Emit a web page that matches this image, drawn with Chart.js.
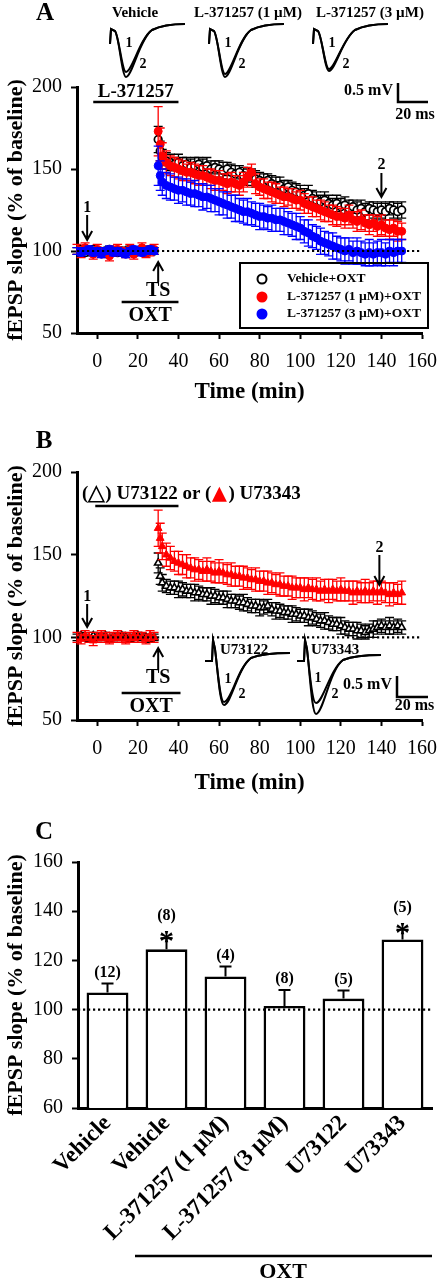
<!DOCTYPE html>
<html>
<head>
<meta charset="utf-8">
<script src="https://cdn.jsdelivr.net/npm/chart.js@4.4.1/dist/chart.umd.min.js"></script>
<style>
  html, body { margin: 0; padding: 0; background: #fff; }
  body { width: 448px; height: 1280px; position: relative; overflow: hidden; }
  canvas { position: absolute; left: 0; }
</style>
</head>
<body>
<canvas id="panelB" width="448" height="400" style="top:400px"></canvas>
<canvas id="panelC" width="448" height="480" style="top:800px"></canvas>
<canvas id="panelA" width="448" height="410" style="top:0"></canvas>
<script>
// ===== 数据 =====
const timePoints = [-10, -8, -6, -4, -2, 0, 2, 4, 6, 8, 10, 12, 14, 16, 18, 20, 22, 24, 26, 28,
  30, 31, 32, 34, 36, 38, 40, 42, 44, 46, 48, 50, 52, 54, 56, 58, 60, 62, 64, 66, 68, 70,
  72, 74, 76, 78, 80, 82, 84, 86, 88, 90, 92, 94, 96, 98, 100, 102, 104, 106, 108, 110,
  112, 114, 116, 118, 120, 122, 124, 126, 128, 130, 132, 134, 136, 138, 140, 142, 144, 146, 148, 150];
const timeTicks = [0, 20, 40, 60, 80, 100, 120, 140, 160];
const yTicksAB = [50, 100, 150, 200];

// Panel A
const seriesLabelsA = ['Vehicle+OXT', 'L-371257 (1 µM)+OXT', 'L-371257 (3 µM)+OXT'];
const vehicleA = [100, 101, 99, 100, 101, 100, 99, 100, 101, 100, 99, 100, 100, 101, 99, 100, 100, 99, 101, 100,
  168, 161, 157, 155, 154, 153, 154, 152, 153, 151, 152, 153,
  151, 152, 150, 151, 150, 149, 150, 148, 147, 148,
  146, 145, 146, 144, 143, 142, 143, 141, 140, 140,
  138, 139, 137, 136, 135, 134, 135, 132, 131, 130,
  131, 129, 128, 129, 127, 128, 126, 127, 125, 126,
  124, 126, 125, 124, 125, 124, 126, 125, 124, 125];
const vehicleErrA = [2, 2, 2, 2, 2, 2, 2, 2, 2, 2, 2, 2, 2, 2, 2, 2, 2, 2, 2, 2,
  8, 6, 5, 5, 5, 4, 5, 5, 4, 5, 5, 4,
  5, 5, 5, 4, 5, 5, 4, 5, 5, 4,
  5, 5, 4, 5, 5, 5, 4, 5, 5, 5,
  5, 4, 5, 5, 5, 4, 5, 5, 5, 4,
  5, 5, 4, 5, 5, 5, 5, 4, 5, 5,
  5, 4, 5, 5, 5, 5, 4, 5, 5, 5];
const red1uMA = [101, 99, 102, 100, 98, 101, 100, 99, 97, 100, 101, 100, 99, 101, 98, 100, 102, 99, 100, 101,
  173, 165, 158, 154, 152, 151, 150, 149, 148, 148, 147, 146,
  146, 145, 144, 143, 143, 142, 141, 142, 141, 140,
  142, 145, 148, 141, 139, 138, 137, 136, 135, 134,
  133, 133, 132, 131, 131, 129, 128, 127, 126, 125,
  124, 123, 122, 121, 121, 120, 122, 119, 118, 119,
  117, 116, 117, 115, 116, 114, 113, 114, 112, 112];
const red1uMErrA = [3, 3, 3, 2, 3, 3, 2, 3, 3, 3, 3, 2, 3, 3, 3, 2, 3, 3, 3, 3,
  15, 10, 8, 7, 6, 6, 6, 6, 5, 6, 6, 6,
  6, 5, 6, 6, 6, 5, 6, 6, 5, 6,
  6, 6, 5, 6, 5, 6, 5, 6, 6, 5,
  6, 5, 6, 5, 6, 6, 5, 6, 5, 6,
  6, 5, 6, 6, 5, 6, 6, 5, 6, 6,
  5, 6, 5, 6, 6, 5, 6, 5, 6, 5];
const blue3uMA = [100, 99, 100, 101, 99, 100, 98, 100, 101, 99, 100, 99, 98, 100, 101, 100, 99, 100, 101, 100,
  152, 146, 142, 140, 139, 138, 137, 137, 136, 135, 135, 134,
  133, 133, 132, 131, 130, 129, 128, 127, 126, 125,
  124, 124, 123, 122, 121, 121, 120, 120, 119, 119,
  118, 117, 116, 115, 114, 112, 111, 109, 108, 106,
  105, 104, 103, 102, 101, 100, 101, 99, 100, 99,
  98, 99, 98, 99, 99, 98, 100, 99, 100, 100];
const blue3uMErrA = [2, 2, 2, 2, 2, 2, 2, 2, 2, 2, 2, 2, 2, 2, 2, 2, 2, 2, 2, 2,
  12, 9, 8, 8, 8, 7, 8, 7, 8, 7, 8, 7,
  8, 7, 8, 7, 8, 7, 8, 7, 8, 7,
  7, 8, 7, 7, 8, 7, 7, 8, 7, 7,
  8, 7, 7, 8, 7, 7, 8, 7, 7, 8,
  7, 7, 8, 7, 7, 8, 7, 7, 8, 7,
  7, 8, 7, 7, 8, 7, 7, 8, 7, 7];
const traceLabelsA = ['Vehicle', 'L-371257 (1 µM)', 'L-371257 (3 µM)'];

// Panel B
const seriesLabelsB = ['U73122', 'U73343'];
const u73122B = [100, 101, 100, 99, 101, 100, 100, 101, 99, 100, 100, 101, 100, 99, 100, 101, 100, 100, 99, 100,
  145, 137, 133, 131, 130, 130, 129, 129, 128, 128, 127, 127,
  126, 126, 125, 125, 124, 124, 123, 122, 122, 121,
  121, 120, 119, 119, 118, 118, 119, 117, 116, 116,
  115, 115, 114, 114, 113, 113, 112, 112, 111, 110,
  110, 109, 108, 108, 107, 106, 105, 105, 104, 104,
  103, 104, 105, 106, 107, 106, 107, 106, 107, 106];
const u73122ErrB = [2, 2, 2, 2, 2, 2, 2, 2, 2, 2, 2, 2, 2, 2, 2, 2, 2, 2, 2, 2,
  6, 5, 5, 4, 4, 4, 5, 4, 4, 4, 5, 4,
  4, 4, 5, 4, 4, 4, 5, 4, 4, 4,
  5, 4, 4, 4, 5, 4, 4, 4, 5, 4,
  4, 4, 5, 4, 4, 4, 5, 4, 4, 4,
  5, 4, 4, 4, 5, 4, 4, 4, 5, 4,
  4, 4, 5, 4, 4, 4, 5, 4, 4, 4];
const u73343B = [100, 99, 101, 100, 98, 100, 101, 100, 99, 100, 101, 100, 99, 100, 101, 100, 100, 99, 101, 100,
  166, 160, 155, 150, 148, 146, 145, 144, 143, 142, 141, 141,
  140, 141, 140, 139, 140, 139, 138, 138, 137, 137,
  136, 136, 135, 135, 134, 134, 133, 133, 132, 132,
  131, 131, 130, 130, 130, 129, 130, 129, 129, 128,
  129, 128, 129, 128, 129, 128, 128, 127, 128, 127,
  128, 127, 128, 127, 128, 127, 126, 127, 126, 127];
const u73343ErrB = [3, 3, 3, 3, 3, 3, 3, 3, 3, 3, 3, 3, 3, 3, 3, 3, 3, 3, 3, 3,
  11, 9, 8, 7, 7, 6, 7, 6, 7, 6, 7, 6,
  6, 7, 6, 6, 7, 6, 6, 7, 6, 6,
  7, 6, 6, 7, 6, 6, 7, 6, 6, 7,
  6, 6, 7, 6, 6, 7, 6, 6, 7, 6,
  6, 7, 6, 6, 7, 6, 6, 7, 6, 6,
  7, 6, 6, 7, 6, 6, 7, 6, 6, 7];

// Panel C
const groupLabelsC = ['Vehicle', 'Vehicle', 'L-371257 (1 µM)', 'L-371257 (3 µM)', 'U73122', 'U73343'];
const meansC = [107, 124.5, 113.5, 101.5, 104.5, 128.5];
const semC = [3.6, 4.5, 4, 6.5, 3.3, 4];
const nLabelsC = ['(12)', '(8)', '(4)', '(8)', '(5)', '(5)'];
const significantC = [false, true, false, false, false, true];
const yTicksC = [60, 80, 100, 120, 140, 160];

// ===== 通用 =====
const SERIF = '"Liberation Serif", "Times New Roman", serif';
Chart.defaults.font.family = SERIF;
Chart.defaults.color = '#000';

function put(ctx, s, x, y, size, opts = {}) {
    ctx.save();
    ctx.font = (opts.bold === false ? '' : 'bold ') + size + 'px ' + SERIF;
    ctx.fillStyle = opts.color || '#000';
    ctx.textAlign = opts.align || 'center';
    ctx.textBaseline = opts.baseline || 'middle';
    ctx.fillText(s, x, y);
    ctx.restore();
}

function vArrow(ctx, x, yFrom, yTo) {
    const d = yTo > yFrom ? -1 : 1;
    ctx.save();
    ctx.strokeStyle = '#000';
    ctx.lineWidth = 2;
    ctx.beginPath();
    ctx.moveTo(x, yFrom);
    ctx.lineTo(x, yTo);
    ctx.moveTo(x - 5, yTo + d * 9);
    ctx.lineTo(x, yTo);
    ctx.lineTo(x + 5, yTo + d * 9);
    ctx.stroke();
    ctx.restore();
}

function hLine(ctx, x1, x2, y, w) {
    ctx.save();
    ctx.strokeStyle = '#000';
    ctx.lineWidth = w || 2.5;
    ctx.beginPath();
    ctx.moveTo(x1, y);
    ctx.lineTo(x2, y);
    ctx.stroke();
    ctx.restore();
}

function scaleBar(ctx, xv, yTop, yBot, xEnd, textY) {
    put(ctx, '0.5 mV', xv - 5, (yTop + yBot) / 2 - 2, 16, { align: 'right' });
    ctx.save();
    ctx.lineWidth = 2.5;
    ctx.beginPath();
    ctx.moveTo(xv, yTop);
    ctx.lineTo(xv, yBot);
    ctx.lineTo(xEnd, yBot);
    ctx.stroke();
    ctx.restore();
    put(ctx, '20 ms', (xv + xEnd) / 2 + 2, textY, 16);
}

// 误差线：每个数据集在自身绘制前画
const errorBars = {
    id: 'errorBars',
    beforeDatasetDraw(chart, args) {
        const ds = chart.data.datasets[args.index];
        if (!ds.errors) return;
        const ctx = chart.ctx;
        const ys = chart.scales.y;
        ctx.save();
        ctx.strokeStyle = ds.borderColor;
        ctx.lineWidth = 1.3;
        args.meta.data.forEach((pt, i) => {
            const v = ds.data[i].y;
            const e = ds.errors[i];
            const top = ys.getPixelForValue(v + e);
            const bot = ys.getPixelForValue(v - e);
            ctx.beginPath();
            ctx.moveTo(pt.x, top);
            ctx.lineTo(pt.x, bot);
            ctx.moveTo(pt.x - 4.5, top);
            ctx.lineTo(pt.x + 4.5, top);
            ctx.moveTo(pt.x - 4.5, bot);
            ctx.lineTo(pt.x + 4.5, bot);
            ctx.stroke();
        });
        ctx.restore();
    }
};

const baseline100 = {
    id: 'baseline100',
    afterDatasetsDraw(chart) {
        const { ctx, chartArea: a } = chart;
        const py = chart.scales.y.getPixelForValue(100);
        ctx.save();
        ctx.strokeStyle = '#000';
        ctx.lineWidth = 2.2;
        ctx.setLineDash([2.2, 2.8]);
        ctx.beginPath();
        ctx.moveTo(a.left, py);
        ctx.lineTo(a.right, py);
        ctx.stroke();
        ctx.restore();
    }
};

function axisStyle() {
    return {
        grid: { display: true, drawOnChartArea: false, drawTicks: true, tickLength: 6, tickWidth: 2, tickColor: '#000', color: '#000' },
        border: { display: true, color: '#000', width: 3 }
    };
}

function timeCourseChart(id, datasets, geom, annotate) {
    return new Chart(document.getElementById(id), {
        type: 'scatter',
        data: { datasets: datasets },
        options: {
            responsive: false,
            animation: false,
            devicePixelRatio: 1,
            layout: { padding: { left: 5, top: geom.top, right: geom.right, bottom: geom.bottom } },
            plugins: { legend: { display: false }, tooltip: { enabled: false } },
            scales: {
                x: {
                    type: 'linear', min: -10, max: 160,
                    ...axisStyle(),
                    afterBuildTicks: s => { s.ticks = timeTicks.map(v => ({ value: v })); },
                    afterFit: s => { s.height = geom.xHeight; },
                    ticks: { font: { size: 20 }, padding: 11, maxRotation: 0, autoSkip: false },
                    title: { display: true, text: 'Time (min)', font: { size: 23, weight: 'bold', lineHeight: 1 }, padding: 0 }
                },
                y: {
                    type: 'linear', min: 50, max: 200,
                    ...axisStyle(),
                    afterBuildTicks: s => { s.ticks = yTicksAB.map(v => ({ value: v })); },
                    afterFit: s => { s.width = geom.yWidth; },
                    ticks: { font: { size: 20 }, padding: 9 },
                    title: { display: true, text: 'fEPSP slope (% of baseline)', font: { size: 22, weight: 'bold', lineHeight: 1 }, padding: 0 }
                }
            }
        },
        plugins: [errorBars, baseline100, { id: 'annot', afterDraw: annotate }]
    });
}

function toPoints(values) {
    return timePoints.map((t, i) => ({ x: t, y: values[i] }));
}

// ===== A =====
function traceA(ctx, x0, y0, depth) {
    ctx.beginPath();
    ctx.moveTo(x0, y0 + 20);
    ctx.lineTo(x0 + 1, y0 + 5);
    ctx.lineTo(x0 + 5, y0 + 7);
    ctx.bezierCurveTo(x0 + 9, y0 + 12, x0 + 12, y0 + depth, x0 + 16, y0 + depth);
    ctx.bezierCurveTo(x0 + 22, y0 + depth, x0 + 30, y0 + 14, x0 + 42, y0 + 6);
    ctx.bezierCurveTo(x0 + 52, y0 + 1, x0 + 62, y0, x0 + 75, y0);
    ctx.stroke();
}

function annotateA(chart) {
    const ctx = chart.ctx;
    const xs = chart.scales.x;
    put(ctx, 'A', 45, 14, 25);

    // 样例波形
    const traceX = [110, 209, 313];
    const traceDepths = [[48, 53], [50, 53], [45, 47]];
    const labelX = [135, 248, 370];
    ctx.save();
    ctx.strokeStyle = '#000';
    ctx.lineWidth = 2;
    traceX.forEach((x0, i) => {
        put(ctx, traceLabelsA[i], labelX[i], 13, 15);
        traceDepths[i].forEach(d => traceA(ctx, x0, 24, d));
        put(ctx, '1', x0 + 19, 43, 14);
        put(ctx, '2', x0 + 33, 64, 14);
    });
    ctx.restore();
    scaleBar(ctx, 398, 83, 102, 428, 115);

    // 药物条
    put(ctx, 'L-371257', (xs.getPixelForValue(-2) + xs.getPixelForValue(40)) / 2, 92, 19);
    hLine(ctx, xs.getPixelForValue(-2), xs.getPixelForValue(40), 102);

    // 箭头
    put(ctx, '1', xs.getPixelForValue(-5), 208, 16);
    vArrow(ctx, xs.getPixelForValue(-5), 215, 240);
    put(ctx, '2', xs.getPixelForValue(140), 165, 16);
    vArrow(ctx, xs.getPixelForValue(140), 173, 197);
    vArrow(ctx, xs.getPixelForValue(30), 282, 262);
    put(ctx, 'TS', xs.getPixelForValue(30), 291, 20);
    hLine(ctx, xs.getPixelForValue(12), xs.getPixelForValue(40), 302);
    put(ctx, 'OXT', xs.getPixelForValue(26), 316, 20);

    // 图例
    ctx.save();
    ctx.lineWidth = 2;
    ctx.strokeStyle = '#000';
    ctx.strokeRect(240, 263, 188, 65);
    const rows = [279, 297, 314];
    chart.data.datasets.forEach((ds, i) => {
        ctx.beginPath();
        ctx.arc(262, rows[i], 4.5, 0, Math.PI * 2);
        ctx.fillStyle = ds.backgroundColor;
        ctx.fill();
        ctx.lineWidth = 2;
        ctx.strokeStyle = ds.borderColor;
        ctx.stroke();
        put(ctx, ds.label, 287, rows[i], 13.5, { align: 'left' });
    });
    ctx.restore();
}

timeCourseChart('panelA', [
    { label: seriesLabelsA[0], data: toPoints(vehicleA), errors: vehicleErrA, order: 3,
      pointStyle: 'circle', radius: 3.8, backgroundColor: '#fff', borderColor: '#000', borderWidth: 1.7 },
    { label: seriesLabelsA[1], data: toPoints(red1uMA), errors: red1uMErrA, order: 2,
      pointStyle: 'circle', radius: 4, backgroundColor: '#ff0000', borderColor: '#ff0000', borderWidth: 1 },
    { label: seriesLabelsA[2], data: toPoints(blue3uMA), errors: blue3uMErrA, order: 1,
      pointStyle: 'circle', radius: 4, backgroundColor: '#0000ff', borderColor: '#0000ff', borderWidth: 1 }
], { top: 87, right: 20, bottom: 6, xHeight: 71, yWidth: 72 }, annotateA);

// ===== B =====
function traceB(ctx, x0, yStub, yEnd, depth, w) {
    ctx.beginPath();
    ctx.moveTo(x0, yStub);
    ctx.lineTo(x0 + 7, yStub);
    ctx.lineTo(x0 + 8, yStub - 21);
    ctx.lineTo(x0 + 10, yStub - 12);
    ctx.bezierCurveTo(x0 + 13, yEnd + 20, x0 + 15, yEnd + depth, x0 + 19, yEnd + depth);
    ctx.bezierCurveTo(x0 + 26, yEnd + depth, x0 + 33, yEnd + 14, x0 + 46, yEnd + 5);
    ctx.bezierCurveTo(x0 + 56, yEnd + 1, x0 + 70, yEnd, x0 + w, yEnd);
    ctx.stroke();
}

function triangle(ctx, cx, cy, size, filled, color) {
    ctx.save();
    ctx.beginPath();
    ctx.moveTo(cx, cy - size * 0.55);
    ctx.lineTo(cx + size / 2, cy + size * 0.45);
    ctx.lineTo(cx - size / 2, cy + size * 0.45);
    ctx.closePath();
    if (filled) {
        ctx.fillStyle = color;
        ctx.fill();
    } else {
        ctx.strokeStyle = color;
        ctx.lineWidth = 1.6;
        ctx.stroke();
    }
    ctx.restore();
}

function annotateB(chart) {
    const ctx = chart.ctx;
    const xs = chart.scales.x;
    put(ctx, 'B', 44, 42, 25);

    // 标题：(△) U73122 or (▲) U73343
    ctx.save();
    ctx.font = 'bold 19px ' + SERIF;
    let x = 82;
    const y = 94;
    const seg = s => { put(ctx, s, x, y, 19, { align: 'left' }); x += ctx.measureText(s).width; };
    seg('(');
    triangle(ctx, x + 8, y + 1, 15, false, '#000'); x += 17;
    seg(') ' + seriesLabelsB[0] + ' or (');
    triangle(ctx, x + 8, y + 1, 15, true, '#ff0000'); x += 17;
    seg(') ' + seriesLabelsB[1]);
    ctx.restore();
    hLine(ctx, xs.getPixelForValue(-1), xs.getPixelForValue(40), 106);

    put(ctx, '1', xs.getPixelForValue(-5), 197, 16);
    vArrow(ctx, xs.getPixelForValue(-5), 204, 227);
    put(ctx, '2', xs.getPixelForValue(139), 148, 16);
    vArrow(ctx, xs.getPixelForValue(139), 155, 185);
    vArrow(ctx, xs.getPixelForValue(30), 270, 248);
    put(ctx, 'TS', xs.getPixelForValue(30), 278, 20);
    hLine(ctx, xs.getPixelForValue(12), xs.getPixelForValue(41), 293);
    put(ctx, 'OXT', xs.getPixelForValue(26.5), 307, 20);

    // 样例波形
    ctx.save();
    ctx.strokeStyle = '#000';
    ctx.lineWidth = 2;
    [49, 52].forEach(d => traceB(ctx, 205, 261, 253, d, 85));
    [48, 59].forEach(d => traceB(ctx, 297, 261, 255, d, 84));
    ctx.restore();
    put(ctx, seriesLabelsB[0], 220, 250, 15, { align: 'left' });
    put(ctx, seriesLabelsB[1], 311, 250, 15, { align: 'left' });
    put(ctx, '1', 228, 279, 14);
    put(ctx, '2', 242, 294, 14);
    put(ctx, '1', 318, 278, 14);
    put(ctx, '2', 335, 294, 14);
    scaleBar(ctx, 397, 276, 297, 428, 306);
}

timeCourseChart('panelB', [
    { label: seriesLabelsB[0], data: toPoints(u73122B), errors: u73122ErrB, order: 2,
      pointStyle: 'triangle', radius: 4.2, backgroundColor: '#fff', borderColor: '#000', borderWidth: 1.6 },
    { label: seriesLabelsB[1], data: toPoints(u73343B), errors: u73343ErrB, order: 1,
      pointStyle: 'triangle', radius: 4.5, backgroundColor: '#ff0000', borderColor: '#ff0000', borderWidth: 1 }
], { top: 72, right: 15, bottom: 5, xHeight: 75, yWidth: 72 }, annotateB);

// ===== C =====
const barDecor = {
    id: 'barDecor',
    afterDatasetsDraw(chart) {
        const ctx = chart.ctx;
        const ys = chart.scales.y;
        const meta = chart.getDatasetMeta(0);
        ctx.save();
        ctx.strokeStyle = '#000';
        ctx.lineWidth = 2;
        meta.data.forEach((bar, i) => {
            const top = ys.getPixelForValue(meansC[i] + semC[i]);
            ctx.beginPath();
            ctx.moveTo(bar.x, bar.y);
            ctx.lineTo(bar.x, top);
            ctx.moveTo(bar.x - 6, top);
            ctx.lineTo(bar.x + 6, top);
            ctx.stroke();
            if (significantC[i]) {
                put(ctx, '*', bar.x, top + 12, 30, { baseline: 'alphabetic' });
                put(ctx, nLabelsC[i], bar.x, top - 22, 16);
            } else {
                put(ctx, nLabelsC[i], bar.x, top - 11, 16);
            }
        });
        ctx.restore();
        put(ctx, 'C', 44, 33, 25);
        hLine(ctx, 135, 432, 456, 2.5);
        put(ctx, 'OXT', 283, 472, 22);
    }
};

new Chart(document.getElementById('panelC'), {
    type: 'bar',
    data: {
        labels: groupLabelsC,
        datasets: [{
            data: meansC,
            backgroundColor: '#fff',
            borderColor: '#000',
            borderWidth: 2.6,
            borderSkipped: 'bottom',
            barPercentage: 0.71,
            categoryPercentage: 1
        }]
    },
    options: {
        responsive: false,
        animation: false,
        devicePixelRatio: 1,
        layout: { padding: { left: 5, top: 62, right: 16, bottom: 0 } },
        plugins: { legend: { display: false }, tooltip: { enabled: false } },
        scales: {
            x: {
                grid: { display: false, drawTicks: false },
                border: { display: true, color: '#000', width: 3 },
                afterFit: s => { s.height = 172; },
                ticks: { font: { size: 23, weight: 'bold' }, minRotation: 45, maxRotation: 45, autoSkip: false, padding: 2 }
            },
            y: {
                type: 'linear', min: 60, max: 160,
                ...axisStyle(),
                afterBuildTicks: s => { s.ticks = yTicksC.map(v => ({ value: v })); },
                afterFit: s => { s.width = 73; },
                ticks: { font: { size: 20 }, padding: 9 },
                title: { display: true, text: 'fEPSP slope (% of baseline)', font: { size: 22, weight: 'bold', lineHeight: 1 }, padding: 0 }
            }
        }
    },
    plugins: [baseline100, barDecor]
});
</script>
</body>
</html>
